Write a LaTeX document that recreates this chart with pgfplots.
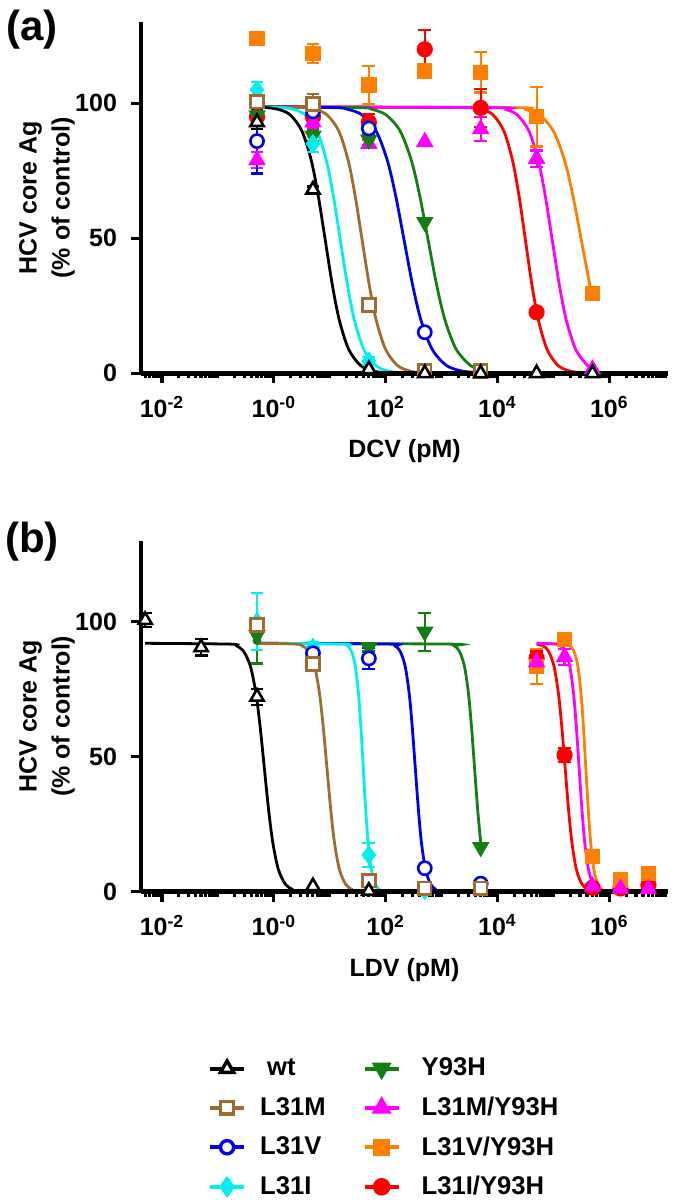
\documentclass[border=0pt]{standalone}
\usepackage{fontspec}
\setmainfont{Liberation Sans}
\usepackage{pgfplots}
\pgfplotsset{compat=1.18}

\definecolor{cwt}{RGB}{0,0,0}
\definecolor{cM}{RGB}{158,108,48}
\definecolor{cV}{RGB}{0,0,235}
\definecolor{cI}{RGB}{0,240,240}
\definecolor{cY}{RGB}{20,125,20}
\definecolor{cMY}{RGB}{255,0,255}
\definecolor{cVY}{RGB}{255,128,0}
\definecolor{cIY}{RGB}{255,0,0}

\pgfplotsset{
  panel/.style={
    scale only axis, width=263.5pt, height=175.5pt,
    xmin=-2.375, xmax=7.05, ymin=0, ymax=130,
    axis x line=bottom, axis y line=left,
    axis line style={-, line width=2.4pt},
    clip=false,
    xtick={-2,0,2,4,6},
    xticklabels={10\textsuperscript{-2},10\textsuperscript{-0},10\textsuperscript{2},10\textsuperscript{4},10\textsuperscript{6}},
    minor xtick={-2.301,-2.222,-2.155,-2.097,-2.046,
      -1.699,-1.523,-1.398,-1.301,-1.222,-1.155,-1.097,-1.046,-1,
      -0.699,-0.523,-0.398,-0.301,-0.222,-0.155,-0.097,-0.046,
      0.301,0.477,0.602,0.699,0.778,0.845,0.903,0.954,1,
      1.301,1.477,1.602,1.699,1.778,1.845,1.903,1.954,
      2.301,2.477,2.602,2.699,2.778,2.845,2.903,2.954,3,
      3.301,3.477,3.602,3.699,3.778,3.845,3.903,3.954,
      4.301,4.477,4.602,4.699,4.778,4.845,4.903,4.954,5,
      5.301,5.477,5.602,5.699,5.778,5.845,5.903,5.954,
      6.301,6.477,6.602,6.699,6.778,6.845,6.903,6.954,7},
    ytick={0,50,100},
    tick align=outside, major tick length=5pt, minor tick length=2.5pt,
    tick style={line width=1.6pt, black},
    tick label style={font=\fontsize{12.5}{14}\selectfont\bfseries},
    xticklabel style={yshift=-3pt},
    yticklabel style={xshift=-3.5pt},
    /pgf/number format/assume math mode=true,
    every axis x label/.style={at={(rel axis cs:0.5,0)}, anchor=center, yshift=-39pt,
      font=\fontsize{12.5}{15}\selectfont\bfseries},
    every axis y label/.style={at={(rel axis cs:0,0.5)}, xshift=-47pt, rotate=90,
      anchor=center, align=center, font=\fontsize{12.5}{16.5}\selectfont\bfseries},
    ylabel={HCV core Ag\\(\% of control)},
  },
  curve/.style={line width=1.4pt, smooth, mark=none, forget plot},
  baseline/.style={black, line width=2.4pt, mark=none, forget plot},
  bars/.style={only marks, mark=none, forget plot,
    error bars/y dir=both, error bars/y explicit,
    error bars/error bar style={line width=1.1pt},
    error bars/error mark options={rotate=90, mark size=3.2pt, line width=1.1pt}},
  pts/.style={only marks, mark size=3.1pt, line width=1.3pt, forget plot},
  mwt/.style={cwt, mark=triangle*, mark size=3.8pt, mark options={fill=white}},
  mM/.style={cM, mark=square*, mark size=3.2pt, mark options={fill=white}},
  mV/.style={cV, mark=*, mark size=3.3pt, mark options={fill=white}},
  mI/.style={cI, mark=diamond*, mark size=3.8pt},
  mY/.style={cY, mark=triangle*, mark size=3.8pt, mark options={rotate=180}},
  mMY/.style={cMY, mark=triangle*, mark size=3.8pt},
  mVY/.style={cVY, mark=square*, mark size=3.2pt},
  mIY/.style={cIY, mark=*, mark size=3.4pt},
}

\begin{document}
\begin{tikzpicture}
\useasboundingbox (0,0) rectangle (337.5pt,-601.5pt);
\node[font=\fontsize{21}{25}\selectfont\bfseries] at (16pt,-15pt) {(a)};
\node[font=\fontsize{21}{25}\selectfont\bfseries] at (16pt,-270.75pt) {(b)};

% ---------------- panel (a) ----------------
\begin{axis}[panel, at={(70.5pt,-186.65pt)}, anchor=south west, xlabel={DCV (pM)}]
% fitted curves
\addplot[curve, cVY] coordinates {(-0.3,98.7) (4.25,98.39) (4.5,97.72) (4.75,95.68) (5.0,89.73) (5.2,78.88) (5.35,65.74) (5.5,49.35) (5.65,32.96) (5.7,28.1)};
\addplot[curve, cIY] coordinates {(-0.3,98.7) (3.538,98.39) (3.731,97.72) (3.923,95.68) (4.115,89.73) (4.269,78.88) (4.385,65.74) (4.5,49.35) (4.615,32.96) (4.731,19.82) (4.885,8.97) (5.077,3.02) (5.269,0.98) (5.462,0.31) (5.7,0.08)};
\addplot[curve, cMY] coordinates {(-0.3,98.7) (3.938,98.39) (4.147,97.72) (4.355,95.68) (4.563,89.73) (4.73,78.88) (4.855,65.74) (4.98,49.35) (5.105,32.96) (5.23,19.82) (5.397,8.97) (5.605,3.02) (5.7,1.8)};
\addplot[curve, cY] coordinates {(-0.3,98.7) (1.51,98.39) (1.76,97.72) (2.01,95.68) (2.26,89.73) (2.46,78.88) (2.61,65.74) (2.76,49.35) (2.91,32.96) (3.06,19.82) (3.26,8.97) (3.51,3.02) (3.7,1.3)};
\addplot[curve, cV] coordinates {(-0.3,98.7) (1.08,98.39) (1.33,97.72) (1.58,95.68) (1.83,89.73) (2.03,78.88) (2.18,65.74) (2.33,49.35) (2.48,32.96) (2.63,19.82) (2.83,8.97) (3.08,3.02) (3.33,0.98) (3.58,0.31) (3.7,0.2)};
\addplot[curve, cM] coordinates {(-0.3,98.7) (0.538,98.39) (0.747,97.72) (0.955,95.68) (1.163,89.73) (1.33,78.88) (1.455,65.74) (1.58,49.35) (1.705,32.96) (1.83,19.82) (1.997,8.97) (2.205,3.02) (2.413,0.98) (2.622,0.31) (3.7,0)};
\addplot[curve, cI] coordinates {(-0.3,98.7) (0.148,98.39) (0.357,97.72) (0.565,95.68) (0.773,89.73) (0.94,78.88) (1.065,65.74) (1.19,49.35) (1.315,32.96) (1.44,19.82) (1.607,8.97) (1.815,3.02) (2.023,0.98) (2.232,0.31) (2.7,0.03)};
\addplot[curve, cwt] coordinates {(-0.3,98.6) (-0.122,98.39) (0.087,97.72) (0.295,95.68) (0.503,89.73) (0.67,78.88) (0.795,65.74) (0.92,49.35) (1.045,32.96) (1.17,19.82) (1.337,8.97) (1.545,3.02) (1.753,0.98) (1.962,0.31) (2.5,0.03) (5.7,0)};
\addplot[baseline] coordinates {(-2.375,0) (7.05,0)};
% error bars
\addplot[bars, cVY] coordinates {(0.7,118.5) +- (0,3.5) (1.7,106.8) +- (0,7) (3.7,111.5) +- (0,7.5) (4.7,95) +- (0,11)};
\addplot[bars, cIY] coordinates {(-0.3,95) +- (0,3) (0.7,95) +- (0,2) (1.7,93) +- (0,3) (2.7,120) +- (0,7) (3.7,98.3) +- (0,7)};
\addplot[bars, cMY] coordinates {(-0.3,79) +- (0,3) (0.7,93) +- (0,2) (1.7,85) +- (0,1.5) (3.7,90.5) +- (0,4.5) (4.7,79.5) +- (0,3)};
\addplot[bars, cY] coordinates {(-0.3,95.5) +- (0,2) (0.7,88) +- (0,2) (1.7,86.5) +- (0,2)};
\addplot[bars, cI] coordinates {(-0.3,105) +- (0,3) (0.7,85) +- (0,3) (1.7,4.5) +- (0,1.5)};
\addplot[bars, cV] coordinates {(-0.3,86) +- (0,12) (0.7,97) +- (0,5) (1.7,90.7) +- (0,3)};
\addplot[bars, cM] coordinates {(-0.3,100.6) +- (0,1) (0.7,99.8) +- (0,3.5)};
\addplot[bars, cwt] coordinates {(-0.3,93) +- (0,2.5) (0.7,68) +- (0,1.2)};
% data points
\addplot[pts, mVY] coordinates {(-0.3,124) (0.7,118.5) (1.7,106.8) (2.7,112) (3.7,111.5) (4.7,95) (5.7,29.6)};
\addplot[pts, mIY] coordinates {(-0.3,95) (0.7,95) (1.7,93) (2.7,120) (3.7,98.3) (4.7,22.6)};
\addplot[pts, mMY] coordinates {(-0.3,79) (0.7,93) (1.7,85) (2.7,85.7) (3.7,90.5) (4.7,79.5) (5.7,1.5)};
\addplot[pts, mY] coordinates {(-0.3,95.5) (0.7,88) (1.7,86.5) (2.7,56)};
\addplot[pts, mI] coordinates {(-0.3,105) (0.7,85) (1.7,4.5)};
\addplot[pts, mV] coordinates {(-0.3,86) (0.7,97) (1.7,90.7) (2.7,15.2)};
\addplot[pts, mM] coordinates {(-0.3,100.6) (0.7,99.8) (1.7,25.3) (2.7,1) (3.7,0.8)};
\addplot[pts, mwt] coordinates {(-0.3,93) (0.7,68) (1.7,1.5) (2.7,0) (3.7,0) (4.7,0) (5.7,0)};
\end{axis}

% ---------------- panel (b) ----------------
\begin{axis}[panel, at={(70.5pt,-445.85pt)}, anchor=south west, xlabel={LDV (pM)},
  legend columns=2, legend cell align=left,
  legend style={draw=none, fill=none, anchor=north west, at={(rel axis cs:0.115,-0.45)},
    font=\fontsize{12.8}{15}\selectfont\bfseries, row sep=5pt,
    /tikz/every odd column/.append style={column sep=5pt},
    /tikz/every even column/.append style={column sep=16.5pt}}]
\addlegendimage{cwt, line width=2pt, mark=triangle*, mark size=3.8pt, mark options={fill=white, solid, line width=1.7pt}}
\addlegendentry{\hspace{3.5pt}wt}
\addlegendimage{cY, line width=2pt, mark=triangle*, mark size=3.8pt, mark options={rotate=180}}
\addlegendentry{\hspace{3.5pt}Y93H}
\addlegendimage{cM, line width=2pt, mark=square*, mark size=3.2pt, mark options={fill=white, line width=1.7pt}}
\addlegendentry{L31M}
\addlegendimage{cMY, line width=2pt, mark=triangle*, mark size=3.8pt}
\addlegendentry{\hspace{3.5pt}L31M/Y93H}
\addlegendimage{cV, line width=2pt, mark=*, mark size=3.3pt, mark options={fill=white, line width=1.7pt}}
\addlegendentry{L31V}
\addlegendimage{cVY, line width=2pt, mark=square*, mark size=3.2pt}
\addlegendentry{\hspace{3.5pt}L31V/Y93H}
\addlegendimage{cI, line width=2pt, mark=diamond*, mark size=3.8pt}
\addlegendentry{L31I}
\addlegendimage{cIY, line width=2pt, mark=*, mark size=3.4pt}
\addlegendentry{\hspace{3.5pt}L31I/Y93H}
% fitted curves
\addplot[curve, cIY] coordinates {(4.7,91.7) (4.81,91.09) (4.91,89.18) (5.01,83.64) (5.09,73.53) (5.15,61.28) (5.21,46.0) (5.27,30.72) (5.33,18.47) (5.41,8.36) (5.51,2.82) (5.61,0.91) (5.71,0.29) (6.7,0)};
\addplot[curve, cVY] coordinates {(4.7,92) (5.223,91.71) (5.294,91.09) (5.366,89.18) (5.437,83.64) (5.494,73.53) (5.537,61.28) (5.58,46.0) (5.623,30.72) (5.666,18.47) (5.723,8.36) (5.794,2.82) (5.866,0.91) (5.937,0.29) (6.7,0)};
\addplot[curve, cMY] coordinates {(4.7,92) (5.043,91.71) (5.127,91.09) (5.21,89.18) (5.293,83.64) (5.36,73.53) (5.41,61.28) (5.46,46.0) (5.51,30.72) (5.56,18.47) (5.627,8.36) (5.71,2.82) (5.793,0.91) (5.877,0.29) (6.7,0)};
\addplot[curve, cY] coordinates {(-0.3,92) (3.135,91.71) (3.226,91.09) (3.317,89.18) (3.408,83.64) (3.481,73.53) (3.535,61.28) (3.59,46.0) (3.645,30.72) (3.7,18.3)};
\addplot[curve, cV] coordinates {(-0.3,92) (2.075,91.71) (2.166,91.09) (2.257,89.18) (2.348,83.64) (2.421,73.53) (2.475,61.28) (2.53,46.0) (2.585,30.72) (2.639,18.47) (2.712,8.36) (2.803,2.82) (2.894,0.91) (2.985,0.29) (3.7,0)};
\addplot[curve, cI] coordinates {(-0.3,92) (1.243,91.71) (1.314,91.09) (1.386,89.18) (1.457,83.64) (1.514,73.53) (1.557,61.28) (1.6,46.0) (1.643,30.72) (1.686,18.47) (1.743,8.36) (1.814,2.82) (1.886,0.91) (1.957,0.29) (2.7,0)};
\addplot[curve, cM] coordinates {(-0.3,92) (0.394,91.71) (0.506,91.09) (0.617,89.18) (0.728,83.64) (0.817,73.53) (0.883,61.28) (0.95,46.0) (1.017,30.72) (1.083,18.47) (1.172,8.36) (1.283,2.82) (1.394,0.91) (1.506,0.29) (3.7,0)};
\addplot[curve, cwt] coordinates {(-2.3,92) (-0.795,91.71) (-0.67,91.09) (-0.545,89.18) (-0.42,83.64) (-0.32,73.53) (-0.245,61.28) (-0.17,46.0) (-0.095,30.72) (-0.02,18.47) (0.08,8.36) (0.205,2.82) (0.33,0.91) (0.455,0.29) (1.7,0)};
\addplot[baseline] coordinates {(-2.375,0) (7.05,0)};
% error bars
\addplot[bars, cIY] coordinates {(4.7,86.5) +- (0,2.5) (5.2,50.6) +- (0,2.5)};
\addplot[bars, cVY] coordinates {(4.7,83.5) +- (0,6.5)};
\addplot[bars, cMY] coordinates {(4.7,85) +- (0,2.5) (5.2,87) +- (0,3)};
\addplot[bars, cY] coordinates {(-0.3,93) +- (0,8.5) (1.7,90.5) +- (0,1.5) (2.7,96.3) +- (0,7)};
\addplot[bars, cI] coordinates {(-0.3,100) +- (0,10.5) (0.7,90.5) +- (0,2) (1.7,13.6) +- (0,4.5)};
\addplot[bars, cV] coordinates {(0.7,88.3) +- (0,2) (1.7,86.4) +- (0,4)};
\addplot[bars, cM] coordinates {(-0.3,98.8) +- (0,2) (0.7,84.3) +- (0,1.5)};
\addplot[bars, cwt] coordinates {(-2.3,100.6) +- (0,2.5) (-1.3,90.5) +- (0,3) (-0.3,72.2) +- (0,3)};
% data points
\addplot[pts, mIY] coordinates {(4.7,86.5) (5.2,50.6) (5.7,1.5) (6.2,1.2) (6.7,2.5)};
\addplot[pts, mVY] coordinates {(4.7,83.5) (5.2,93.5) (5.7,13) (6.2,4.3) (6.7,6.8)};
\addplot[pts, mMY] coordinates {(4.7,85) (5.2,87) (5.7,2) (6.2,1.2) (6.7,1)};
\addplot[pts, mY] coordinates {(-0.3,95) (1.7,90.5) (2.7,96.3) (3.7,16.5)};
\addplot[pts, mI] coordinates {(-0.3,100) (0.7,90.5) (1.7,13.6) (2.7,0.5)};
\addplot[pts, mV] coordinates {(0.7,88.3) (1.7,86.4) (2.7,8.7) (3.7,3)};
\addplot[pts, mM] coordinates {(-0.3,98.8) (0.7,84.3) (1.7,4.1) (2.7,1.3) (3.7,1.3)};
\addplot[pts, mwt] coordinates {(-2.3,100.6) (-1.3,90.5) (-0.3,72.2) (0.7,2) (1.7,0.3)};
\end{axis}
\end{tikzpicture}
\end{document}
